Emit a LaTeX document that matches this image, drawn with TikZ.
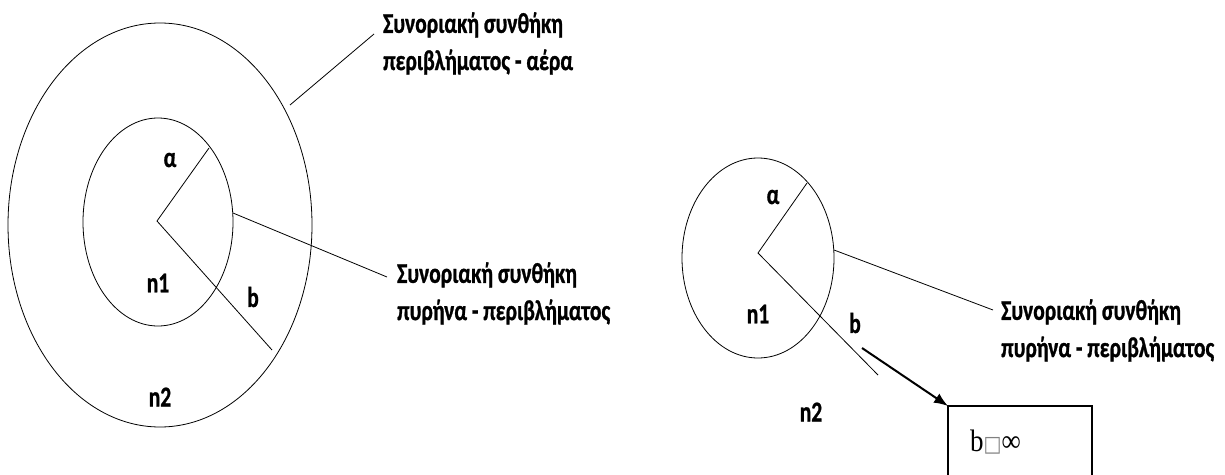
\documentclass[tikz,border=0pt]{standalone}
\usepackage{fontspec}
\setmainfont{Carlito}
\newfontfamily\lblfont{Carlito Bold}[FakeBold=1.2]
\newfontfamily\boxserif{Liberation Serif}
\newfontfamily\boxsymb{DejaVu Sans}
\usetikzlibrary{arrows.meta,positioning}
\newcommand{\tall}[1]{\scalebox{1}[1.33]{#1}}
\newcommand{\twolines}[2]{\tall{\begin{tabular}{@{}l@{}}#1\\#2\end{tabular}}}

\begin{document}
\begin{tikzpicture}[x=1pt,y=-1pt,>=Latex,
  lbl/.style={font=\lblfont\fontsize{21.5}{28}\selectfont,inner sep=0pt},
  note/.style={lbl,anchor=west},
  rim/.style={line width=0.8pt}]
\useasboundingbox (0,0) rectangle (1225,474);

% left: core inside cladding
\draw[rim] (160,225) ellipse [x radius=152,y radius=202];
\draw[rim] (158,222) ellipse [x radius=75,y radius=104];
\coordinate (c1)  at (157,221);
\coordinate (a1)  at (209,148);
\coordinate (b1)  at (272,350);
\coordinate (o1)  at (290,105);
\coordinate (o1e) at (374,34);
\coordinate (i1)  at (233,213);
\coordinate (i1e) at (387,277);
\draw[rim] (a1) -- (c1) -- (b1);
\draw[rim] (o1) -- (o1e);
\draw[rim] (i1) -- (i1e);
\node[lbl] (alpha1) at (170,160) {\tall{α}};
\node[lbl] (n11)    at (158,283) {\tall{n1}};
\node[lbl] (bb1)    at (253,297) {\tall{b}};
\node[lbl] (n21)    at (160,397) {\tall{n2}};
\node[note] (air)   at (383,44)  {\twolines{Συνοριακή συνθήκη}{περιβλήματος - αέρα}};
\node[note] (core1) at (397,294) {\twolines{Συνοριακή συνθήκη}{πυρήνα - περιβλήματος}};

% right: core only, b goes to infinity
\draw[rim] (758,258) ellipse [x radius=76,y radius=100];
\coordinate (c2)  at (758,253);
\coordinate (a2)  at (807,183);
\coordinate (b2)  at (878,375);
\coordinate (i2)  at (834,250);
\coordinate (i2e) at (993,310);
\draw[rim] (a2) -- (c2) -- (b2);
\draw[rim] (i2) -- (i2e);
\node[lbl] (alpha2) at (773,197) {\tall{α}};
\node[lbl] (n12)    at (758,314) {\tall{n1}};
\node[lbl] (bb2)    at (855,323) {\tall{b}};
\node[lbl] (n22)    at (811,412) {\tall{n2}};
\node[note] (core2) at (1001,331) {\twolines{Συνοριακή συνθήκη}{πυρήνα - περιβλήματος}};

\coordinate (tail) at (862,348);
\coordinate (corner) at (948,406);
\draw[line width=1.4pt] (corner) rectangle (1092,520);
\draw[->,line width=2pt,-{Latex[length=14pt,width=11pt]}] (tail) -- (corner);
\node[font=\boxserif\fontsize{27}{27}\selectfont,anchor=west,inner sep=0pt] (limit) at (970,442)
  {\scalebox{1}[1.15]{b{\boxsymb\color{gray}\fontsize{19}{19}\selectfont □}∞}};
\end{tikzpicture}
\end{document}
